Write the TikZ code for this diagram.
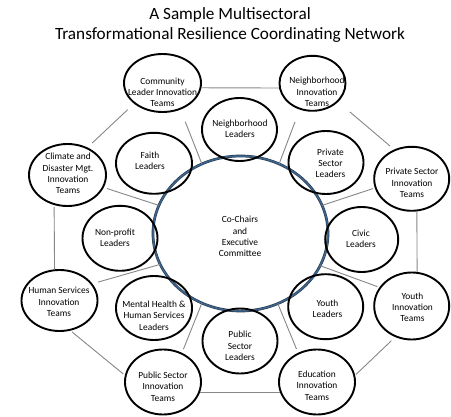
\documentclass[tikz,border=0pt]{standalone}
\usepackage{fontspec}
\setmainfont{Carlito}
\usetikzlibrary{shapes.geometric}

\definecolor{ringblue}{RGB}{62,100,138}
\definecolor{ringedge}{RGB}{38,58,80}
\definecolor{linkgray}{RGB}{135,135,135}

\tikzset{
  unit/.style 2 args={ellipse, draw=black, line width=1.9pt, inner sep=0pt,
    minimum width=#1, minimum height=#2},
  core/.style={ellipse, draw=ringedge, line width=0.6pt, double=ringblue,
    double distance=1.5pt, inner sep=0pt, minimum width=175, minimum height=155},
  lbl/.style={align=center, inner sep=0pt, font=\fontsize{9.4}{11.3}\selectfont},
  headline/.style={inner sep=0pt, anchor=base, font=\fontsize{17.2}{20}\selectfont},
  link/.style={draw=linkgray, line width=0.9pt},
}

\begin{document}
\begin{tikzpicture}[x=1pt,y=-1pt]
\fill[white] (0,0) rectangle (451,417);
\useasboundingbox (0,0) rectangle (451,417);

% heading
\node[headline] (head1) at (230,19.5) {A Sample Multisectoral};
\node[headline] (head2) at (230,39.5) {Transformational Resilience Coordinating Network};

% central committee
\node[core] (cc) at (240.5,233.5) {};

% inner ring of leader groups
\node[unit={75}{63}] (nlead) at (239.5,129.5) {};
\node[unit={76}{61}] (faith) at (154,163.3) {};
\node[unit={75}{63}] (psl) at (326,162.5) {};
\node[unit={75}{65}] (nonprofit) at (120,238.3) {};
\node[unit={73}{65}] (civic) at (361.7,239.5) {};
\node[unit={76}{64}] (mental) at (154,308) {};
\node[unit={75}{65}] (youthl) at (325.7,306.7) {};
\node[unit={75}{65}] (publead) at (240,341) {};

% outer ring of innovation teams
\node[unit={77}{58}] (comm) at (162.5,83) {};
\node[unit={66}{55}] (ninn) at (312.5,83.3) {};
\node[unit={75}{64}] (psi) at (411.7,178.8) {};
\node[unit={75}{67}] (yinn) at (411.7,306) {};
\node[unit={76}{65}] (edu) at (317,382) {};
\node[unit={76}{65}] (psinn) at (163,382) {};
\node[unit={76}{61}] (hsit) at (59.5,300.5) {};
\node[unit={77}{62}] (climate) at (67.5,175) {};

% labels
\node[lbl] (cc-t) at (240,236.5) {Co-Chairs\\and\\Executive\\Committee};
\node[lbl] (nlead-t) at (240,129) {Neighborhood\\Leaders};
\node[lbl] (faith-t) at (150,161) {Faith\\Leaders};
\node[lbl] (psl-t) at (330.5,163.5) {Private\\Sector\\Leaders};
\node[lbl] (nonprofit-t) at (115,238) {Non-profit\\Leaders};
\node[lbl] (civic-t) at (361,239) {Civic\\Leaders};
\node[lbl] (mental-t) at (154,315.5) {Mental Health \&\\Human Services\\Leaders};
\node[lbl] (youthl-t) at (327.5,308.5) {Youth\\Leaders};
\node[lbl] (publead-t) at (240,346) {Public\\Sector\\Leaders};
\node[lbl] (comm-t) at (162.5,92.5) {Community\\Leader Innovation\\Teams};
\node[lbl] (ninn-t) at (317,92) {Neighborhood\\Innovation\\Teams};
\node[lbl] (psi-t) at (412,183) {Private Sector\\Innovation\\Teams};
\node[lbl] (yinn-t) at (412.5,307.3) {Youth\\Innovation\\Teams};
\node[lbl] (edu-t) at (317,385.5) {Education\\Innovation\\Teams};
\node[lbl] (psinn-t) at (163,386.5) {Public Sector\\Innovation\\Teams};
\node[lbl] (hsit-t) at (59,302) {Human Services\\Innovation\\Teams};
\node[lbl] (climate-t) at (68,173.5) {Climate and\\Disaster Mgt.\\Innovation\\Teams};

% octagon joining the innovation teams
\draw[link] (comm.-7.5) -- (ninn.188.2);
\draw[link, shorten <=15.5pt, shorten >=5.4pt] (ninn.-36) -- (psi.121);
\draw[link] (psi.-81) -- (yinn.81.4);
\draw[link, shorten <=5.3pt, shorten >=1.2pt] (yinn.-118.1) -- (edu.10.7);
\draw[link] (edu.195) -- (psinn.-15);
\draw[link, shorten <=2pt, shorten >=2pt] (psinn.170.1) -- (hsit.-70);
\draw[link, shorten >=1.8pt] (hsit.99.5) -- (climate.246.4);
\draw[link, shorten <=6.4pt, shorten >=8.7pt] (climate.54.5) -- (comm.216.9);

% spokes from the committee to the teams
\draw[link, shorten >=13pt] (cc.119.5) -- (comm.-56.3);
\draw[link, shorten >=13.2pt] (cc.61) -- (ninn.-116.1);
\draw[link, shorten >=3.5pt] (cc.161) -- (climate.-19.7);
\draw[link, shorten >=1.8pt] (cc.19.8) -- (psi.194.7);
\draw[link, shorten >=5.9pt] (cc.201.4) -- (hsit.27.4);
\draw[link, shorten >=2.1pt] (cc.338.4) -- (yinn.150.8);
\draw[link, shorten >=3.8pt] (cc.241.5) -- (psinn.57.9);
\draw[link, shorten >=4.2pt] (cc.298.5) -- (edu.123.8);
\end{tikzpicture}
\end{document}
